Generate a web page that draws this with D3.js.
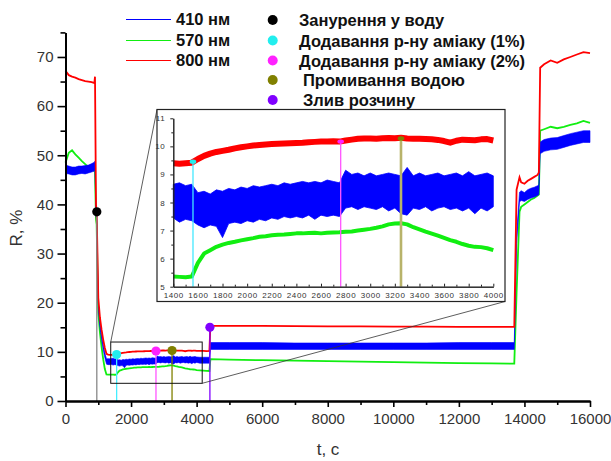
<!DOCTYPE html>
<html>
<head>
<meta charset="utf-8">
<script src="https://cdn.jsdelivr.net/npm/d3@7"></script>
<style>
  body { margin: 0; background: #fff; }
  text { font-family: "Liberation Sans", Arial, sans-serif; }
</style>
</head>
<body>
<div class="canvas"></div>
<script>
const width = 611;
const height = 461;

// Series names (legend)
const seriesNames = ["410 нм", "570 нм", "800 нм"];

// Time, s
const tSec = [
  0, 100, 200, 300, 400, 500, 600, 700, 800, 880, 900, 930, 950, 975, 1000, 1050, 1100, 1150, 1200, 1250, 1300, 1350,
  1400, 1450, 1500, 1550, 1600, 1650, 1700, 1750, 1800, 1850, 1900, 1950, 2000, 2050, 2100, 2150, 2200, 2250,
  2300, 2350, 2400, 2450, 2500, 2550, 2600, 2650, 2700, 2750, 2800, 2850, 2900, 2950, 3000, 3050, 3100, 3150,
  3200, 3250, 3300, 3350, 3400, 3450, 3500, 3550, 3600, 3650, 3700, 3750, 3800, 3850, 3900, 3950, 4000,
  4100, 4200, 4300, 4390, 4420, 5000, 6000, 7000, 8000, 9000, 10000, 11000, 12000, 13000, 13690, 13760, 13850,
  13900, 14000, 14100, 14200, 14300, 14400, 14440, 14480, 14600, 14800, 15000, 15200, 15400, 15600, 15800, 16000
];

// 800 nm, R %
const r800 = [
  67.2, 66.3, 66.0, 65.8, 65.5, 65.3, 65.1, 65.0, 64.9, 64.7, 66.0, 40.0, 38.5, 30.0, 21.0, 17.0, 14.5, 12.5, 10.8, 9.6, 9.45, 9.4,
  9.40, 9.38, 9.40, 9.42, 9.55, 9.66, 9.74, 9.80, 9.84, 9.88, 9.93, 9.97, 10.00, 10.03, 10.05, 10.07, 10.08, 10.09,
  10.10, 10.11, 10.12, 10.13, 10.15, 10.16, 10.17, 10.17, 10.18, 10.17, 10.21, 10.24, 10.27, 10.28, 10.28, 10.27, 10.29, 10.30,
  10.29, 10.31, 10.28, 10.27, 10.27, 10.26, 10.25, 10.23, 10.19, 10.13, 10.20, 10.24, 10.23, 10.22, 10.25, 10.26, 10.21,
  10.2, 10.2, 10.15, 10.2, 15.3, 15.3, 15.3, 15.25, 15.2, 15.2, 15.15, 15.15, 15.1, 15.1, 15.1, 43.0, 45.5,
  44.5, 44.2, 44.8, 45.2, 45.6, 46.0, 46.5, 67.8, 68.5, 69.3, 68.8, 69.5, 70.0, 70.5, 71.0, 70.8
];

// 570 nm, R %
const r570 = [
  48.5, 50.5, 51.0, 50.2, 49.5, 48.8, 48.2, 47.6, 47.2, 46.8, 46.5, 37.0, 36.0, 26.0, 18.0, 14.0, 11.0, 8.5, 6.5, 5.4, 5.35, 5.35,
  5.36, 5.35, 5.34, 5.36, 5.85, 6.18, 6.30, 6.42, 6.50, 6.56, 6.60, 6.65, 6.69, 6.73, 6.78, 6.80, 6.83, 6.85,
  6.86, 6.88, 6.90, 6.90, 6.91, 6.92, 6.90, 6.92, 6.93, 6.94, 6.96, 6.97, 7.00, 7.03, 7.06, 7.10, 7.15, 7.22,
  7.25, 7.26, 7.22, 7.12, 7.04, 6.96, 6.89, 6.82, 6.74, 6.66, 6.60, 6.52, 6.46, 6.42, 6.41, 6.37, 6.30,
  6.25, 6.2, 6.15, 6.1, 8.5, 8.4, 8.3, 8.2, 8.1, 8.0, 7.9, 7.8, 7.7, 7.65, 7.6, 22.0, 38.5,
  39.5, 40.0, 40.5, 41.0, 41.3, 41.8, 42.0, 55.0, 55.3, 55.8, 55.5, 55.8, 56.2, 56.5, 57.0, 56.6
];

// 410 nm is very noisy: lower and upper edge of the band, R %
const r410Lo = [
  46.3, 46.2, 46.0, 46.0, 46.2, 46.3, 46.2, 46.4, 46.6, 46.8, 47.0, 37.5, 37.0, 27.5, 19.0, 15.0, 12.5, 10.5, 8.8, 7.5, 7.4, 7.4,
  7.45, 7.30, 7.40, 7.35, 7.20, 7.10, 7.20, 7.15, 6.75, 7.25, 7.30, 7.25, 7.35, 7.30, 7.40, 7.35, 7.45, 7.40,
  7.50, 7.45, 7.50, 7.45, 7.55, 7.40, 7.55, 7.50, 7.55, 7.50, 7.80, 7.85, 7.75, 7.85, 7.80, 7.75, 7.85, 7.70,
  7.80, 7.60, 7.55, 7.80, 7.75, 7.85, 7.70, 7.80, 7.85, 7.75, 7.80, 7.70, 7.80, 7.60, 7.80, 7.70, 7.85,
  7.7, 7.7, 7.7, 7.7, 10.5, 10.5, 10.5, 10.5, 10.5, 10.5, 10.5, 10.5, 10.5, 10.5, 10.5, 32.0, 40.5,
  40.8, 40.6, 41.0, 41.3, 41.5, 41.8, 42.0, 50.3, 50.8, 51.1, 51.2, 51.6, 52.0, 52.3, 52.6, 52.6
];
const r410Hi = [
  48.0, 47.8, 47.6, 47.6, 47.8, 47.8, 47.9, 48.0, 48.3, 48.6, 48.8, 38.5, 38.0, 28.5, 20.0, 16.0, 13.5, 11.5, 9.8, 8.6, 8.6, 8.6,
  8.65, 8.70, 8.60, 8.65, 8.35, 8.40, 8.30, 8.45, 8.40, 8.50, 8.45, 8.55, 8.50, 8.60, 8.55, 8.60, 8.65, 8.60,
  8.70, 8.65, 8.70, 8.75, 8.70, 8.75, 8.70, 8.80, 8.75, 8.70, 9.15, 9.00, 9.05, 8.95, 9.05, 8.95, 9.00, 9.05,
  9.00, 8.95, 9.25, 8.95, 9.05, 8.95, 9.00, 9.05, 8.95, 9.00, 9.05, 8.95, 9.10, 8.95, 9.00, 9.05, 8.95,
  8.9, 8.9, 8.9, 8.9, 11.9, 11.9, 11.9, 11.8, 11.8, 11.8, 11.8, 11.8, 11.9, 11.9, 11.9, 34.0, 42.5,
  42.8, 42.4, 43.0, 43.3, 43.5, 43.8, 44.0, 52.7, 53.2, 53.5, 53.6, 54.0, 54.4, 54.7, 55.0, 55.0
];

// Events
const eventNames = [
  "Занурення у воду",
  "Додавання р-ну аміаку (1%)",
  "Додавання р-ну аміаку (2%)",
  "Промивання водою",
  "Злив розчину"
];
const eventT = [955, 1560, 2760, 3250, 4405];
const eventR = [38.5, 9.45, 10.17, 10.28, 15.0];

// Tick values
const xTicks = [0, 2000, 4000, 6000, 8000, 10000, 12000, 14000, 16000];
const yTicks = [0, 10, 20, 30, 40, 50, 60, 70];
const insetXTicks = [1400, 1600, 1800, 2000, 2200, 2400, 2600, 2800, 3000, 3200, 3400, 3600, 3800, 4000];
const insetYTicks = [5, 6, 7, 8, 9, 10, 11];

// Styles
const seriesColors = ["#0000ff", "#11ee11", "#ff0000"];
const eventColors = ["#000000", "#22eeee", "#ff22ff", "#808000", "#8000ff"];
const eventLineColors = ["#888888", "#44eeff", "#ff55ff", "#808000", "#8000ff"];
const insetLineColors = [null, "#44e8ff", "#ff55ff", "#b8b36a", null];

const data = tSec.map((t, i) => ({ t, red: r800[i], green: r570[i], lo: r410Lo[i], hi: r410Hi[i] }));

// Create SVG Element
const svg = d3
  .select(".canvas")
  .append("svg")
  .attr("width", width)
  .attr("height", height);

// Create Scale Functions
const xScale = d3.scaleLinear().domain([0, 16000]).range([65.5, 590]);
const yScale = d3.scaleLinear().domain([0, 75]).range([401, 32.4]);

// Main data
const band = (x, y) => d3.area().x(d => x(d.t)).y0(d => y(d.lo)).y1(d => y(d.hi));
const line = (x, y, key) => d3.line().x(d => x(d.t)).y(d => y(d[key]));

svg.append("path").datum(data)
  .attr("d", line(xScale, yScale, "green"))
  .attr("fill", "none").attr("stroke", seriesColors[1]).attr("stroke-width", 1.8);
svg.append("path").datum(data)
  .attr("d", band(xScale, yScale))
  .attr("fill", seriesColors[0]).attr("stroke", seriesColors[0]).attr("stroke-width", 0.6);
svg.append("path").datum(data)
  .attr("d", line(xScale, yScale, "red"))
  .attr("fill", "none").attr("stroke", seriesColors[2]).attr("stroke-width", 1.8);

// Event markers
eventT.forEach((t, i) => {
  svg.append("line")
    .attr("x1", xScale(t)).attr("x2", xScale(t))
    .attr("y1", yScale(0)).attr("y2", yScale(eventR[i]))
    .attr("stroke", eventLineColors[i]).attr("stroke-width", 1.3);
});

// Zoom rectangle and connectors
const zoomBox = { t0: 1380, t1: 4170, r0: 3.6, r1: 12.0 };
const insetBox = { x: 157, y: 109.5, w: 348, h: 192 };

svg.append("rect")
  .attr("x", xScale(zoomBox.t0)).attr("y", yScale(zoomBox.r1))
  .attr("width", xScale(zoomBox.t1) - xScale(zoomBox.t0))
  .attr("height", yScale(zoomBox.r0) - yScale(zoomBox.r1))
  .attr("fill", "none").attr("stroke", "#111").attr("stroke-width", 1);
svg.append("line")
  .attr("x1", xScale(zoomBox.t0)).attr("y1", yScale(zoomBox.r1))
  .attr("x2", insetBox.x).attr("y2", insetBox.y)
  .attr("stroke", "#333").attr("stroke-width", 0.8);
svg.append("line")
  .attr("x1", xScale(zoomBox.t1)).attr("y1", yScale(zoomBox.r0))
  .attr("x2", insetBox.x + insetBox.w).attr("y2", insetBox.y + insetBox.h)
  .attr("stroke", "#333").attr("stroke-width", 0.8);

svg.selectAll(".evdot")
  .data(eventT)
  .enter()
  .append("circle")
  .attr("cx", d => xScale(d))
  .attr("cy", (d, i) => yScale(eventR[i]))
  .attr("r", 4.6)
  .attr("fill", (d, i) => eventColors[i]);

// Main axes
const xAxis = d3.axisBottom(xScale).tickValues(xTicks).tickSize(6).tickSizeOuter(0).tickPadding(6).tickFormat(d3.format("d"));
const xMinor = d3.axisBottom(xScale).tickValues(d3.range(1000, 16000, 2000)).tickSize(4).tickSizeOuter(0).tickFormat("");
const yAxis = d3.axisLeft(yScale).tickValues(yTicks).tickSize(8).tickSizeOuter(0).tickPadding(4);
const yMinor = d3.axisLeft(yScale).tickValues(d3.range(5, 76, 10)).tickSize(5).tickSizeOuter(0).tickFormat("");

const styleAxis = (g, size) => {
  g.select(".domain").attr("stroke", "#000").attr("stroke-width", 2);
  g.selectAll(".tick line").attr("stroke", "#000").attr("stroke-width", 1.6);
  g.selectAll(".tick text").attr("fill", "#333").style("font-size", size + "px");
};

svg.append("g").attr("transform", `translate(0,${yScale(0)})`).call(xMinor).call(g => styleAxis(g, 15));
svg.append("g").attr("transform", `translate(0,${yScale(0)})`).call(xAxis).call(g => styleAxis(g, 15));
svg.append("g").attr("transform", `translate(${xScale(0)},0)`).call(yMinor).call(g => styleAxis(g, 15));
svg.append("g").attr("transform", `translate(${xScale(0)},0)`).call(yAxis).call(g => styleAxis(g, 15));

svg.append("text")
  .attr("transform", "translate(22,228) rotate(-90)")
  .attr("text-anchor", "middle")
  .attr("fill", "#333")
  .style("font-size", "17px")
  .text("R, %");
svg.append("text")
  .attr("x", 328).attr("y", 455)
  .attr("text-anchor", "middle")
  .attr("fill", "#333")
  .style("font-size", "17px")
  .text("t, c");

// Inset
svg.append("rect")
  .attr("x", insetBox.x).attr("y", insetBox.y)
  .attr("width", insetBox.w).attr("height", insetBox.h)
  .attr("fill", "#fff").attr("stroke", "#222").attr("stroke-width", 1.2);

const ix = d3.scaleLinear().domain([1400, 4000]).range([173.3, 493.3]);
const iy = d3.scaleLinear().domain([5, 11]).range([286.7, 118.3]);
const inset = data.filter(d => d.t >= 1400 && d.t <= 4000);

svg.append("path").datum(inset)
  .attr("d", line(ix, iy, "green"))
  .attr("fill", "none").attr("stroke", seriesColors[1]).attr("stroke-width", 4).attr("stroke-linejoin", "round");
svg.append("path").datum(inset)
  .attr("d", band(ix, iy))
  .attr("fill", seriesColors[0]).attr("stroke", seriesColors[0]).attr("stroke-width", 0.8);
svg.append("path").datum(inset)
  .attr("d", line(ix, iy, "red"))
  .attr("fill", "none").attr("stroke", seriesColors[2]).attr("stroke-width", 6).attr("stroke-linejoin", "round");

eventT.forEach((t, i) => {
  if (t < 1400 || t > 4000) return;
  svg.append("line")
    .attr("x1", ix(t)).attr("x2", ix(t))
    .attr("y1", iy(5)).attr("y2", iy(eventR[i]))
    .attr("stroke", insetLineColors[i]).attr("stroke-width", i === 3 ? 2.6 : 1.3);
  svg.append("ellipse")
    .attr("cx", ix(t)).attr("cy", iy(eventR[i]))
    .attr("rx", 3.3).attr("ry", 2.2)
    .attr("fill", eventColors[i]);
});

const ixAxis = d3.axisBottom(ix).tickValues(insetXTicks).tickSize(-3).tickSizeOuter(0).tickPadding(6).tickFormat(d3.format("d"));
const ixMinor = d3.axisBottom(ix).tickValues(d3.range(1500, 4000, 200)).tickSize(-2).tickSizeOuter(0).tickFormat("");
const iyAxis = d3.axisLeft(iy).tickValues(insetYTicks).tickSize(3).tickSizeOuter(0).tickPadding(5).tickFormat(d3.format("d"));
const iyMinor = d3.axisLeft(iy).tickValues(d3.range(5.5, 11, 1)).tickSize(2).tickSizeOuter(0).tickFormat("");

const styleInset = g => {
  g.select(".domain").attr("stroke", "#222").attr("stroke-width", 1);
  g.selectAll(".tick line").attr("stroke", "#222").attr("stroke-width", 1);
  g.selectAll(".tick text").attr("fill", "#333").style("font-size", "8px").style("letter-spacing", "0.6px");
};
svg.append("g").attr("transform", `translate(0,${iy(5)})`).call(ixMinor).call(styleInset);
svg.append("g").attr("transform", `translate(0,${iy(5)})`).call(ixAxis).call(styleInset);
svg.append("g").attr("transform", `translate(${ix(1400)},0)`).call(iyMinor).call(styleInset);
svg.append("g").attr("transform", `translate(${ix(1400)},0)`).call(iyAxis).call(styleInset);

// Legend
const legendSeriesY = [19.5, 40.5, 60.5];
const legendEventY = [20, 40.5, 60.5, 80, 100];
const legend = svg.append("g").style("font-weight", "bold").style("font-size", "16.5px");

[0, 1, 2].forEach(i => {
  legend.append("line")
    .attr("x1", 126).attr("x2", 171)
    .attr("y1", legendSeriesY[i]).attr("y2", legendSeriesY[i])
    .attr("stroke", seriesColors[i]).attr("stroke-width", 1);
  legend.append("text")
    .attr("x", 176).attr("y", legendSeriesY[i] + 5.5)
    .attr("fill", "#111")
    .text(seriesNames[i]);
});

eventNames.forEach((name, i) => {
  legend.append("circle")
    .attr("cx", 272.7).attr("cy", legendEventY[i]).attr("r", 5)
    .attr("fill", eventColors[i]);
  legend.append("text")
    .attr("x", i < 3 ? 299 : 303).attr("y", legendEventY[i] + 6)
    .attr("fill", "#111")
    .text(name);
});
</script>
</body>
</html>
